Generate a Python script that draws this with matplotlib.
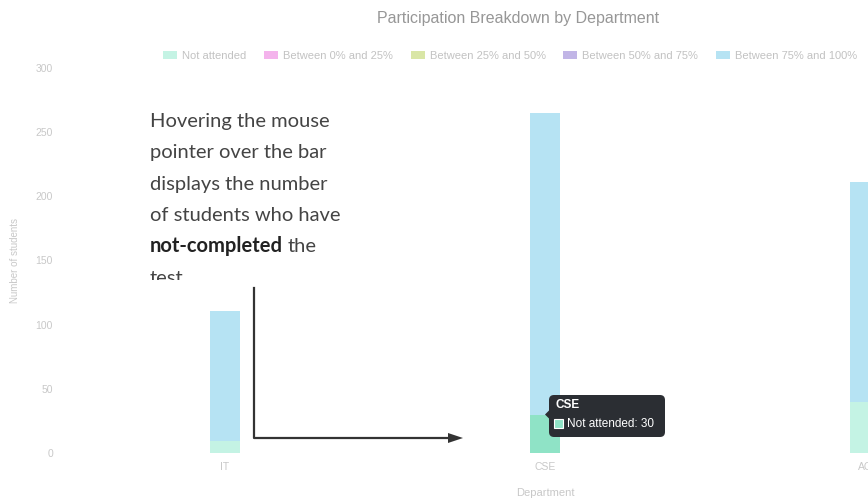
import matplotlib.pyplot as plt
import numpy as np
from matplotlib.patches import FancyBboxPatch, Polygon, Rectangle
from matplotlib.lines import Line2D

# participation counts per department, stacked bottom to top
departments = ['IT', 'CSE', 'AC']
not_attended = [9, 30, 40]
between_0_25 = [0, 0, 0]
between_25_50 = [0, 0, 0]
between_50_75 = [0, 0, 0]
between_75_100 = [102, 235, 171]

series_names = ['Not attended', 'Between 0% and 25%', 'Between 25% and 50%',
                'Between 50% and 75%', 'Between 75% and 100%']
series_values = [not_attended, between_0_25, between_25_50, between_50_75, between_75_100]
series_colors = ['#c4f3e4', '#f4b3ec', '#d9e6a6', '#c1b5e6', '#b6e3f3']
y_ticks = [0, 50, 100, 150, 200, 250, 300]

hover_dept = 'CSE'
hover_value = not_attended[departments.index(hover_dept)]

W, H = 868, 503
fig = plt.figure(figsize=(W / 100, H / 100), dpi=100)
fig.patch.set_facecolor('white')

# the plot area runs past the right edge, so the last department is cut off
ax = fig.add_axes([65 / W, 50 / H, 960 / W, 385 / H])
x = np.arange(len(departments))
bottom = np.zeros(len(departments))
handles = []
for name, vals, col in zip(series_names, series_values, series_colors):
    b = ax.bar(x, vals, width=0.094, bottom=bottom, color=col, label=name)
    handles.append(b)
    bottom += np.array(vals)

# hovered segment is highlighted
hi = departments.index(hover_dept)
handles[0].patches[hi].set_facecolor('#8fe3c6')

ax.set_xlim(-0.5, len(departments) - 0.5)
ax.set_ylim(0, 300)
ax.set_yticks(y_ticks)
ax.set_xticks(x)
ax.set_xticklabels(departments)
for s in ax.spines.values():
    s.set_visible(False)
ax.tick_params(length=0, colors='#c8c8c8', labelsize=7.5, labelfontfamily='Liberation Sans')
ax.tick_params(axis='y', pad=8.6)
ax.tick_params(axis='x', pad=6.5)
ax.set_ylabel('Number of students', color='#c8c8c8', fontsize=7, family='Liberation Sans')
ax.yaxis.set_label_coords(-45 / 960, 0.5)
ax.set_xlabel('Department', color='#c8c8c8', fontsize=8, family='Liberation Sans')
ax.xaxis.set_label_coords(0.5, -35 / 385)

fig.text(518 / W, 1 - 18 / H, 'Participation Breakdown by Department', ha='center', va='center',
         color='#979797', fontsize=11.5, family='Liberation Sans')

leg = fig.legend(handles=handles, labels=series_names, loc='center left', ncol=5,
                 bbox_to_anchor=(163 / W, 1 - 56 / H), frameon=False,
                 prop={'family': 'Liberation Sans', 'size': 8},
                 borderpad=0, borderaxespad=0,
                 handlelength=1.26, handleheight=0.8, handletextpad=0.45, columnspacing=1.6)
for t in leg.get_texts():
    t.set_color('#c2c2c2')

# explanatory note
note_size = 14.5
base0, step = 127, 31.3
note_lines = ['Hovering the mouse', 'pointer over the bar', 'displays the number',
              'of students who have']
for i, line in enumerate(note_lines):
    fig.text(150 / W, 1 - (base0 + step * i) / H, line, ha='left', va='baseline',
             color='#444444', fontsize=note_size, family='Lato')
t_bold = fig.text(150 / W, 1 - (base0 + step * 4) / H, 'not-completed', ha='left', va='baseline',
                  color='#222222', fontsize=note_size, family='Lato', weight='bold')
fig.canvas.draw()
bb = t_bold.get_window_extent()
fig.text((bb.x1 + 5) / W, 1 - (base0 + step * 4) / H, 'the', ha='left', va='baseline',
         color='#444444', fontsize=note_size, family='Lato')
fig.text(150 / W, 1 - (base0 + step * 5) / H, 'test', ha='left', va='baseline',
         color='#444444', fontsize=note_size, family='Lato')
# the last line is half hidden
fig.patches.append(Rectangle((140 / W, 1 - 287 / H), 100 / W, 7 / H,
                             transform=fig.transFigure, facecolor='white',
                             edgecolor='none', zorder=5))

# pointer arrow from the note to the bar
fig.lines.append(Line2D([254 / W, 254 / W, 452 / W], [1 - 288 / H, 1 - 438 / H, 1 - 438 / H],
                        transform=fig.transFigure, color='#333333', linewidth=1.6))
fig.patches.append(Polygon([(448 / W, 1 - 433 / H), (463 / W, 1 - 438 / H), (448 / W, 1 - 443 / H)],
                           closed=True, transform=fig.transFigure, facecolor='#333333',
                           edgecolor='none'))

# tooltip next to the hovered segment
px, py = ax.transData.transform((hi, hover_value))
tip = FancyBboxPatch((px + 4, py - 22.5), 116, 42, boxstyle='round,pad=0,rounding_size=5',
                     transform=None, facecolor='#2b2e33', edgecolor='none', zorder=10)
fig.patches.append(tip)
fig.patches.append(Polygon([(px + 0, py), (px + 5, py + 5), (px + 5, py - 5)], closed=True,
                           transform=None, facecolor='#2b2e33', edgecolor='none', zorder=10))
fig.text((px + 10) / W, (py + 9.5) / H, hover_dept, ha='left', va='center', color='white',
         fontsize=8.5, weight='bold', family='Liberation Sans', zorder=11)
fig.patches.append(Rectangle((px + 9, py - 13.5), 9, 9, transform=None, facecolor='#8fe3c6',
                             edgecolor='white', linewidth=0.8, zorder=11))
fig.text((px + 22) / W, (py - 9.5) / H, f'{series_names[0]}: {hover_value}', ha='left',
         va='center', color='white', fontsize=8.5, family='Liberation Sans', zorder=11)

fig.savefig('out.png', dpi=100)
